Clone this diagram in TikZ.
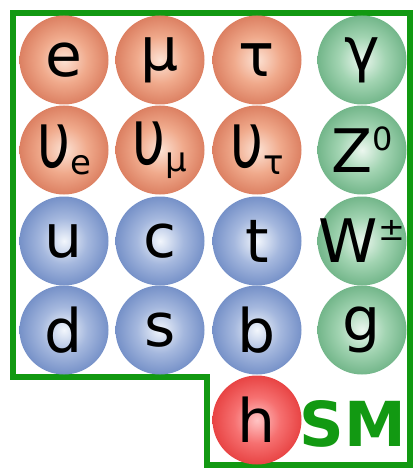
\documentclass[tikz,border=0pt]{standalone}
\usepackage{fontspec}
\setmainfont{DejaVu Sans}
\usepackage{graphicx}
\usetikzlibrary{shadings}

\definecolor{smgreen}{RGB}{18,153,18}
\definecolor{lepC}{RGB}{252,226,212}
\definecolor{lepM}{RGB}{240,170,140}
\definecolor{lepE}{RGB}{220,128,98}
\definecolor{quaC}{RGB}{242,246,252}
\definecolor{quaM}{RGB}{165,184,222}
\definecolor{quaE}{RGB}{118,145,200}
\definecolor{bosC}{RGB}{236,247,239}
\definecolor{bosM}{RGB}{162,212,178}
\definecolor{bosE}{RGB}{115,182,138}
\definecolor{higC}{RGB}{255,196,196}
\definecolor{higM}{RGB}{246,112,112}
\definecolor{higE}{RGB}{232,68,68}

\pgfdeclareradialshading[ballin,ballmid,ballout]{ball}{\pgfpoint{0bp}{0bp}}{%
color(0bp)=(ballin); color(13bp)=(ballmid); color(25bp)=(ballout); color(50bp)=(ballout)}

\newcommand{\pname}[1]{\makebox[0pt]{#1}}
\newcommand{\nuglyph}{\scalebox{0.95}[1.3]{υ}}
\newcommand{\psub}[1]{\raisebox{-7pt}{\fontsize{34}{34}\selectfont #1}}
\newcommand{\psup}[1]{\raisebox{22pt}{\fontsize{32}{32}\selectfont #1}}

\begin{document}
\begin{tikzpicture}[x=1pt, y=-1pt,
  particle/.style={circle, inner sep=0pt, minimum size=89pt, shading=ball,
    font=\fontsize{60}{60}\selectfont},
  lepton/.style={particle, /utils/exec={\colorlet{ballin}{lepC}\colorlet{ballmid}{lepM}\colorlet{ballout}{lepE}}},
  quark/.style={particle, /utils/exec={\colorlet{ballin}{quaC}\colorlet{ballmid}{quaM}\colorlet{ballout}{quaE}}},
  boson/.style={particle, /utils/exec={\colorlet{ballin}{bosC}\colorlet{ballmid}{bosM}\colorlet{ballout}{bosE}}},
  higgs/.style={particle, /utils/exec={\colorlet{ballin}{higC}\colorlet{ballmid}{higM}\colorlet{ballout}{higE}}}]
\useasboundingbox (0,0) rectangle (413,470);

% =====================
% CORNICE
% =====================
\draw[smgreen, line width=5.5pt]
(13,13) -- (410,13) -- (410,465) -- (207,465) -- (207,377) -- (13,377) -- cycle;

% =====================
% LEPTONI
% =====================
\node[lepton] (e) at (64,60) {\pname{e}};
\node[lepton] (mu) at (160,60) {\pname{μ}};
\node[lepton] (tau) at (257,60) {\pname{τ}};
\node[lepton] (nue) at (64,150) {\pname{\nuglyph\psub{e}}};
\node[lepton] (numu) at (160,150) {\pname{\nuglyph\psub{μ}}};
\node[lepton] (nutau) at (257,150) {\pname{\nuglyph\psub{τ}}};

% =====================
% QUARK
% =====================
\node[quark] (u) at (64,241) {\pname{u}};
\node[quark] (c) at (160,241) {\pname{c}};
\node[quark] (t) at (257,241) {\pname{t}};
\node[quark] (d) at (64,330) {\pname{d}};
\node[quark] (s) at (160,330) {\pname{s}};
\node[quark] (b) at (257,330) {\pname{b}};

% =====================
% BOSONI
% =====================
\node[boson] (gamma) at (362,60) {\pname{γ}};
\node[boson] (Z) at (362,150) {\pname{Z\psup{0}}};
\node[boson] (W) at (362,241) {\pname{W\psup{±}}};
\node[boson] (g) at (362,330) {\pname{g}};
\node[higgs] (h) at (257,420) {\pname{h}};

% =====================
% ETICHETTA
% =====================
\node[smgreen, font=\fontsize{62}{62}\selectfont\bfseries] (sm) at (353,424) {SM};

\end{tikzpicture}
\end{document}
